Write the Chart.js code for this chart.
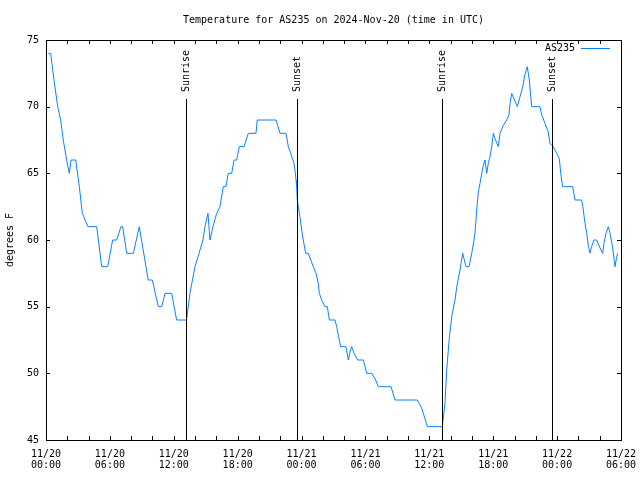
<!DOCTYPE html>
<html>
<head>
<meta charset="utf-8">
<script src="https://cdn.jsdelivr.net/npm/chart.js@4"></script>
<style>
  html, body { margin: 0; padding: 0; background: #fff; }
  #wrap { width: 640px; height: 480px; }
</style>
</head>
<body>
<div id="wrap"><canvas id="c" width="640" height="480"></canvas></div>
<script>
// ---- data (hours since 2024-11-20 00:00 UTC) ----
const hours = [0.22,0.44,0.75,1.1,1.38,1.62,1.94,2.19,2.35,2.79,3.13,3.41,3.94,4.76,5.23,5.79,6.26,6.64,7.04,7.2,7.58,8.2,8.76,9.6,9.98,10.55,10.87,11.18,11.8,12.27,13.2,
  13.52,13.99,14.37,14.74,14.93,15.21,15.4,15.68,16.03,16.34,16.65,16.9,17.12,17.44,17.66,17.91,18.15,18.6,19.0,19.72,19.84,21.6,21.98,22.54,22.76,22.98,23.29,23.38,23.48,
  23.54,23.6,23.69,23.85,24.01,24.16,24.39,24.63,24.86,25.1,25.36,25.57,25.67,25.89,26.2,26.42,26.61,27.14,27.3,27.54,27.68,28.17,28.39,28.55,28.71,28.93,29.27,29.8,30.12,30.59,30.9,31.21,32.4,32.78,34.87,35.28,35.59,35.81,37.22,37.31,37.47,37.63,37.87,
  38.13,38.41,38.6,38.88,39.13,39.44,39.73,39.98,40.2,40.3,40.45,40.6,40.76,40.92,41.07,41.23,41.39,41.54,41.7,41.86,42.01,42.17,42.48,42.64,42.95,43.27,43.48,43.58,43.74,43.95,44.26,44.52,44.77,44.98,45.2,45.39,45.61,46.39,46.55,46.86,47.17,47.33,47.64,47.96,48.21,48.34,48.52,49.46,49.68,50.31,50.46,50.62,50.78,50.93,51.09,51.24,51.46,51.71,52.03,52.28,52.4,52.59,52.81,52.97,53.18,53.44,53.6,53.69];
const temps = [74,74,72,70,69,67.5,66,65,66,66,64,62,61,61,58,58,60,60,61,61,59,59,61,57,57,55,55,56,56,54,54,
  56,58,59,60,61,62,60,61,62,62.5,64,64,65,65,66,66,67,67,68,68,69,69,68,68,67,66.5,65.75,65.25,64.5,
  64,63,62.5,61.75,60.75,60,59,59,58.5,58,57.5,56.75,56,55.5,55,55,54,54,53.5,52.5,52,52,51,51.6,52,51.5,51,51,50,50,49.6,49,49,48,48,47.4,46.6,46,46,46.6,47.75,50.25,52.6,
  54.4,55.5,56.6,57.75,59,58,58,59,60,60.6,62.25,63.6,64.25,65,65.6,66,65,65.75,66.25,67,68,67.6,67,68,68.6,69,69.4,70.25,71,70.6,70,70.75,71.5,72.4,73,72,70,70,69.4,68.75,68.1,67.25,67,66.5,66.1,65,64,64,63,63,62.25,61.25,60.5,59.6,59,59.5,60,60,59.4,59,59.75,60.5,61,60.5,59.6,58,58.75,59];
const seriesName = 'AS235';
const tickDates = ['11/20','11/20','11/20','11/20','11/21','11/21','11/21','11/21','11/22','11/22'];
const tickTimes = ['00:00','06:00','12:00','18:00','00:00','06:00','12:00','18:00','00:00','06:00'];
const eventNames = ['Sunrise','Sunset','Sunrise','Sunset'];
const eventHours = [13.15, 23.6, 37.22, 47.55];
const titleText = 'Temperature for AS235 on 2024-Nov-20 (time in UTC)';
const yTitle = 'degrees F';

const FONT = 'DejaVu Sans Mono';
const LINE_COLOR = '#0a80ff';

Chart.defaults.font.family = FONT;
Chart.defaults.font.size = 10;
Chart.defaults.color = '#000';

const decor = {
  id: 'decor',
  afterDraw(chart) {
    const ctx = chart.ctx;
    const a = chart.chartArea;
    const xs = chart.scales.x, ys = chart.scales.y;
    ctx.save();
    ctx.strokeStyle = '#000';
    ctx.lineWidth = 1;
    // inward ticks
    ctx.beginPath();
    xs.ticks.forEach(t => {
      const px = Math.round(xs.getPixelForValue(t.value)) + 0.5;
      ctx.moveTo(px, a.bottom); ctx.lineTo(px, a.bottom - 4);
      ctx.moveTo(px, a.top); ctx.lineTo(px, a.top + 4);
    });
    ys.ticks.forEach(t => {
      const py = Math.round(ys.getPixelForValue(t.value)) + 0.5;
      ctx.moveTo(a.left, py); ctx.lineTo(a.left + 4, py);
      ctx.moveTo(a.right, py); ctx.lineTo(a.right - 4, py);
    });
    ctx.stroke();
    // border box
    ctx.strokeRect(Math.round(a.left) + 0.5, Math.round(a.top) + 0.5,
                   Math.round(a.right - a.left), Math.round(a.bottom - a.top));
    // sunrise/sunset lines
    ctx.font = '10px "' + FONT + '"';
    eventHours.forEach((h, i) => {
      const px = Math.round(xs.getPixelForValue(h)) + 0.5;
      ctx.beginPath();
      ctx.moveTo(px, 99); ctx.lineTo(px, a.bottom);
      ctx.stroke();
      ctx.save();
      ctx.translate(px, 92);
      ctx.rotate(-Math.PI / 2);
      ctx.fillStyle = '#000';
      ctx.textAlign = 'left';
      ctx.textBaseline = 'middle';
      ctx.fillText(eventNames[i], 0, 0);
      ctx.restore();
    });
    // legend
    ctx.fillStyle = '#000';
    ctx.textAlign = 'right';
    ctx.textBaseline = 'middle';
    ctx.fillText(seriesName, 575, 48);
    ctx.strokeStyle = LINE_COLOR;
    ctx.beginPath();
    ctx.moveTo(581, 48.5); ctx.lineTo(610, 48.5);
    ctx.stroke();
    // title
    ctx.fillStyle = '#000';
    ctx.textAlign = 'center';
    ctx.textBaseline = 'middle';
    ctx.fillText(titleText, (a.left + a.right) / 2, 20);
    ctx.restore();
  }
};

new Chart(document.getElementById('c'), {
  type: 'line',
  data: {
    datasets: [{
      label: seriesName,
      data: hours.map((h, i) => ({ x: h, y: temps[i] })),
      borderColor: LINE_COLOR,
      borderWidth: 1,
      pointRadius: 0,
      tension: 0,
      fill: false
    }]
  },
  options: {
    responsive: false,
    animation: false,
    events: [],
    layout: { padding: { top: 40, right: 19, left: 0, bottom: 0 } },
    plugins: { legend: { display: false }, title: { display: false }, tooltip: { enabled: false } },
    scales: {
      x: {
        type: 'linear',
        min: 0, max: 54,
        grid: { display: false, drawTicks: false },
        border: { display: false },
        ticks: {
          stepSize: 2,
          autoSkip: false,
          maxRotation: 0,
          padding: 9,
          font: { size: 10, lineHeight: 1.1 },
          callback: (v) => (v % 6 === 0) ? [tickDates[v / 6], tickTimes[v / 6]] : ''
        },
        afterFit: (s) => { s.height = 40; s.paddingLeft = 0; s.paddingRight = 0; }
      },
      y: {
        min: 45, max: 75,
        grid: { display: false, drawTicks: false },
        border: { display: false },
        ticks: { stepSize: 5, padding: 7, font: { size: 10 } },
        title: { display: true, text: yTitle, padding: { top: 4, bottom: 0 }, font: { size: 10 } },
        afterFit: (s) => { s.width = 46; s.paddingTop = 0; s.paddingBottom = 0; }
      }
    }
  },
  plugins: [decor]
});
</script>
</body>
</html>
